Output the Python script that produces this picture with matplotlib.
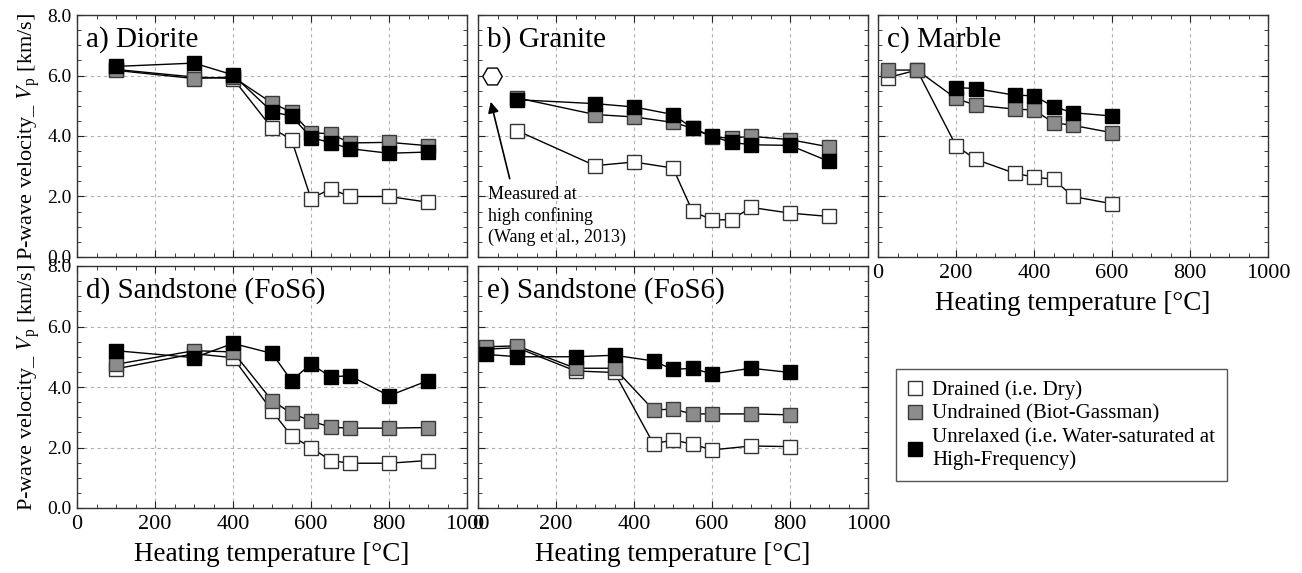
import numpy as np
import matplotlib.pyplot as plt
from matplotlib.lines import Line2D
from matplotlib.ticker import MultipleLocator, FormatStrFormatter

plt.rcParams['font.family'] = 'serif'
plt.rcParams['font.serif'] = ['Liberation Serif', 'DejaVu Serif']
plt.rcParams['mathtext.fontset'] = 'stix'

# a) Diorite
dio_T_dry = [100, 300, 400, 500, 550, 600, 650, 700, 800, 900]
dio_V_dry = [6.2, 5.95, 5.9, 4.26, 3.88, 1.93, 2.25, 2.0, 2.0, 1.81]
dio_T_und = [100, 300, 400, 500, 550, 600, 650, 700, 800, 900]
dio_V_und = [6.17, 5.9, 5.95, 5.09, 4.79, 4.1, 4.08, 3.77, 3.79, 3.68]
dio_T_unr = [100, 300, 400, 500, 550, 600, 650, 700, 800, 900]
dio_V_unr = [6.3, 6.41, 6.02, 4.8, 4.66, 3.95, 3.78, 3.58, 3.43, 3.47]

# b) Granite
gra_T = [100, 300, 400, 500, 550, 600, 650, 700, 800, 900]
gra_V_dry = [4.18, 3.02, 3.14, 2.94, 1.51, 1.23, 1.23, 1.64, 1.45, 1.34]
gra_V_und = [5.26, 4.71, 4.63, 4.45, 4.26, 3.97, 3.93, 3.99, 3.88, 3.64]
gra_V_unr = [5.2, 5.07, 4.96, 4.71, 4.26, 3.99, 3.79, 3.71, 3.69, 3.16]
wang_T = [35]
wang_V = [6.0]

# c) Marble
mar_T_dry = [25, 100, 200, 250, 350, 400, 450, 500, 600]
mar_V_dry = [5.93, 6.18, 3.68, 3.23, 2.77, 2.64, 2.57, 2.0, 1.76]
mar_T_und = [25, 100, 200, 250, 350, 400, 450, 500, 600]
mar_V_und = [6.18, 6.18, 5.24, 5.02, 4.89, 4.86, 4.44, 4.35, 4.11]
mar_T_unr = [200, 250, 350, 400, 450, 500, 600]
mar_V_unr = [5.6, 5.57, 5.35, 5.33, 4.97, 4.77, 4.66]

# d) Sandstone (FoS6)
sd_T = [100, 300, 400, 500, 550, 600, 650, 700, 800, 900]
sd_V_dry = [4.6, 5.1, 4.97, 3.21, 2.38, 2.0, 1.57, 1.48, 1.48, 1.57]
sd_V_und = [4.75, 5.2, 5.16, 3.55, 3.13, 2.88, 2.67, 2.64, 2.64, 2.66]
sd_V_unr = [5.2, 4.97, 5.44, 5.11, 4.21, 4.76, 4.34, 4.37, 3.71, 4.21]

# e) Sandstone (FoS6)
se_T = [20, 100, 250, 350, 450, 500, 550, 600, 700, 800]
se_V_dry = [5.25, 5.3, 4.53, 4.48, 2.12, 2.25, 2.11, 1.92, 2.05, 2.03]
se_V_und = [5.33, 5.36, 4.62, 4.62, 3.24, 3.27, 3.11, 3.11, 3.11, 3.08]
se_V_unr = [5.08, 5.0, 5.0, 5.05, 4.86, 4.58, 4.62, 4.43, 4.62, 4.48]

labels = ['Drained (i.e. Dry)', 'Undrained (Biot-Gassman)',
          'Unrelaxed (i.e. Water-saturated at\nHigh-Frequency)']

styles = [dict(mfc='white', mec='#333333'),
          dict(mfc='#8c8c8c', mec='#3a3a3a'),
          dict(mfc='black', mec='black')]

W, H = 1302, 573
fig = plt.figure(figsize=(W / 100, H / 100), dpi=100)

lefts = [77, 478, 878]
tops = [15, 266]
aw, ah = 390, 242


def make_ax(col, row):
    ax = fig.add_axes([lefts[col] / W, 1 - (tops[row] + ah) / H, aw / W, ah / H])
    ax.set_xlim(0, 1000)
    ax.set_ylim(0, 8)
    ax.xaxis.set_major_locator(MultipleLocator(200))
    ax.xaxis.set_minor_locator(MultipleLocator(50))
    ax.yaxis.set_major_locator(MultipleLocator(2))
    ax.yaxis.set_minor_locator(MultipleLocator(0.5))
    ax.yaxis.set_major_formatter(FormatStrFormatter('%.1f'))
    ax.tick_params(which='both', direction='in', top=True, right=True, color='#222222')
    ax.tick_params(axis='x', labelsize=16, pad=5)
    ax.tick_params(axis='y', labelsize=14, pad=4)
    ax.tick_params(which='major', length=5)
    ax.tick_params(which='minor', length=3)
    ax.grid(True, which='major', ls=(0, (3, 3)), color='#b0b0b0', lw=0.8)
    ax.set_axisbelow(True)
    for s in ax.spines.values():
        s.set_color('#333333')
        s.set_linewidth(1.0)
    return ax


def draw(ax, series):
    for (T, V), st in zip(series, styles):
        ax.plot(T, V, '-', color='black', lw=1.0, marker='s', ms=10, mew=1.0, **st)


def title(ax, txt):
    ax.text(0.022, 0.87, txt, transform=ax.transAxes, fontsize=21, va='baseline')


ylab = r'P-wave velocity_ $V_{\mathregular{p}}$ [km/s]'
xlab = 'Heating temperature [°C]'

ax = make_ax(0, 0)
draw(ax, [(dio_T_dry, dio_V_dry), (dio_T_und, dio_V_und), (dio_T_unr, dio_V_unr)])
title(ax, 'a) Diorite')
ax.set_ylabel(ylab, fontsize=16)
ax.tick_params(labelbottom=False)

ax = make_ax(1, 0)
draw(ax, [(gra_T, gra_V_dry), (gra_T, gra_V_und), (gra_T, gra_V_unr)])
ax.plot(wang_T, wang_V, marker='H', ms=14, mfc='white', mec='black', mew=1.0, ls='none')
ax.annotate('', xy=(31, 5.22), xytext=(83, 2.5),
            arrowprops=dict(arrowstyle='-|>', color='black', lw=1.2, mutation_scale=16))
ax.text(25, 2.35, 'Measured at\nhigh confining\n(Wang et al., 2013)', fontsize=13,
        va='top', ha='left', linespacing=1.3)
title(ax, 'b) Granite')
ax.tick_params(labelbottom=False, labelleft=False)

ax = make_ax(2, 0)
draw(ax, [(mar_T_dry, mar_V_dry), (mar_T_und, mar_V_und), (mar_T_unr, mar_V_unr)])
title(ax, 'c) Marble')
ax.tick_params(labelleft=False)
ax.set_xlabel(xlab, fontsize=19.5, labelpad=6)

ax = make_ax(0, 1)
draw(ax, [(sd_T, sd_V_dry), (sd_T, sd_V_und), (sd_T, sd_V_unr)])
title(ax, 'd) Sandstone (FoS6)')
ax.set_ylabel(ylab, fontsize=16)
ax.set_xlabel(xlab, fontsize=19.5, labelpad=6)

ax = make_ax(1, 1)
draw(ax, [(se_T, se_V_dry), (se_T, se_V_und), (se_T, se_V_unr)])
title(ax, 'e) Sandstone (FoS6)')
ax.tick_params(labelleft=False)
ax.set_xlabel(xlab, fontsize=19.5, labelpad=6)

handles = [Line2D([], [], ls='none', marker='s', ms=10, mew=1.0, **st) for st in styles]
fig.legend(handles, labels, loc='upper left', bbox_to_anchor=(896 / W, 1 - 369 / H),
           frameon=True, fancybox=False, edgecolor='#555555', fontsize=15,
           handlelength=0.7, handletextpad=0.5, labelspacing=0.2, borderpad=0.55,
           borderaxespad=0, framealpha=1)

fig.savefig('out.png', dpi=100)
